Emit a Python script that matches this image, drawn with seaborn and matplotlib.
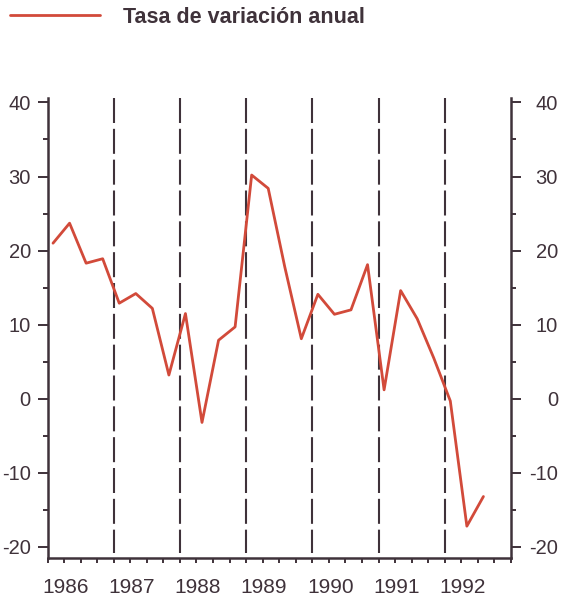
import numpy as np
import matplotlib
matplotlib.use("Agg")
import matplotlib.pyplot as plt
import seaborn as sns

# quarterly data (plotted at the middle month of each quarter)
years = [1986, 1987, 1988, 1989, 1990, 1991, 1992]
months = [2, 5, 8, 11]
tasa = [21.0, 23.7, 18.3, 18.9,
        12.9, 14.2, 12.2, 3.2,
        11.5, -3.2, 7.9, 9.7,
        30.2, 28.4, 17.8, 8.1,
        14.1, 11.4, 12.0, 18.1,
        1.2, 14.6, 10.8, 5.5,
        -0.3, -17.2, -13.2]
year_labels = ["1986", "1987", "1988", "1989", "1990", "1991", "1992"]
y_ticks = [-20, -10, 0, 10, 20, 30, 40]
legend_label = "Tasa de variación anual"

fechas = [y + (m - 1) / 12 for y in years for m in months][:len(tasa)]

sns.set_style("ticks")
plt.rcParams['font.family'] = ['Liberation Sans', 'DejaVu Sans']
plt.rcParams['axes.unicode_minus'] = False

ink = "#3f323a"
red = "#d24a3a"
fs = 15

fig = plt.figure(figsize=(5.61, 5.96), dpi=100)
ax = fig.add_axes([47.5 / 561, 1 - 558 / 596, (511 - 47.5) / 561, (558 - 98) / 596])

ymin, ymax = -21.5, 40.6
# dashed year separators, drawn top-down so the dash pattern starts at the top
for y in years[1:]:
    ax.plot([y, y], [ymax, -20.8], ls=(0, (12, 2.8)), lw=1.5, color=ink, zorder=1)

sns.lineplot(x=fechas, y=tasa, ax=ax, color=red, lw=2.0, label=legend_label, zorder=3)

ax.set_xlim(1986, 1993)
ax.set_ylim(ymin, ymax)

# x axis: quarter ticks, year labels placed inside each year
ax.set_xticks(np.arange(1986, 1993.01, 0.25), minor=True)
ax.set_xticks([y + 0.27 for y in years])
ax.set_xticklabels(year_labels)
ax.tick_params(axis='x', which='major', length=0, pad=14.5, labelsize=fs, labelcolor=ink)
ax.tick_params(axis='x', which='minor', length=3.8, width=1.4, color=ink)

# y axis on both sides
ax.set_yticks(y_ticks)
ax.set_yticks(np.arange(-20, 41, 5), minor=True)
ax.tick_params(axis='y', which='both', left=True, right=True, labelleft=True, labelright=True,
               color=ink, width=1.4, labelsize=14.5, labelcolor=ink)
ax.tick_params(axis='y', which='major', length=7, pad=5)
ax.tick_params(axis='y', which='minor', length=3.6)

sns.despine(ax=ax, top=True, right=False)
for s in ['left', 'right', 'bottom']:
    ax.spines[s].set_color(ink)
    ax.spines[s].set_linewidth(1.8)

# right labels right-aligned near the figure edge
fig.canvas.draw()
for t in ax.yaxis.get_major_ticks():
    t.label2.set_horizontalalignment('right')
    t.label2.set_transform(ax.get_yaxis_transform(which='tick2') +
                           matplotlib.transforms.ScaledTranslation(47 / 100, 0, fig.dpi_scale_trans))

leg = ax.legend(loc='upper left', bbox_to_anchor=(10 / 561, 1 - 7 / 596),
                bbox_transform=fig.transFigure, frameon=False, borderpad=0,
                borderaxespad=0, handlelength=4.2, handletextpad=1.05,
                prop={'size': 15.5, 'weight': 'bold'})
for txt in leg.get_texts():
    txt.set_color(ink)

fig.savefig("out.png", dpi=100)
